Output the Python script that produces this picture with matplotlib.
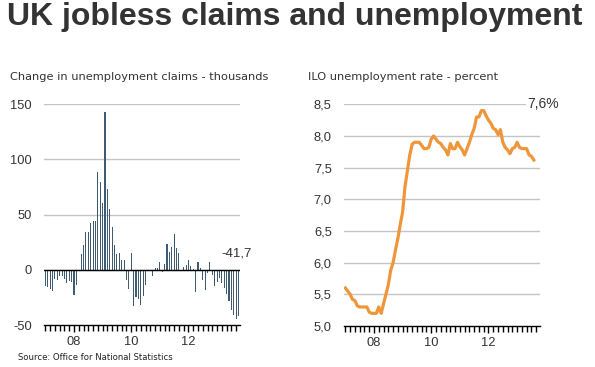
import matplotlib
matplotlib.use("Agg")
import matplotlib.pyplot as plt
from matplotlib.ticker import FixedLocator, FuncFormatter

# ---- data ----
# monthly change in claimant count (thousands), Jan 2007 .. Oct 2013
claims = [-15, -16, -17, -19, -8, -9.5, -6, -6, -8, -12, -10, -11, -23, -14, 0,
          14.5, 22.6, 34, 34, 42, 44, 44, 89, 80, 61, 143, 73, 55, 39, 22.6,
          14.5, 15, 9, 9, -9, -17.5, 15.7,
          -33, -25, -26, -31.5, -24, -13.6, -1, 0, -6, 1.5, 1.5, 7.5, -2, 5,
          23.5, 16.6, 20.5, 32.6, 19.6, 15.4, -1, 2.4, 4.5, 9, 3.6, 0.5,
          -20.5, 7.5, 1.5, -9.6, -18, -3, 7, -5, -14.5, -10.6, -7.5, -12,
          -16.6, -22, -28.6, -36, -40.7, -44.6, -41.7]

# ILO unemployment rate (%), Jan 2007 .. Aug 2013
ilo = [5.6, 5.55, 5.5, 5.42, 5.4, 5.32, 5.3, 5.3, 5.3, 5.3, 5.22, 5.2, 5.2,
       5.2, 5.3, 5.2, 5.35, 5.5, 5.65, 5.88, 6.0, 6.2, 6.38, 6.6, 6.8, 7.2,
       7.45, 7.7, 7.87, 7.9, 7.9, 7.9, 7.85, 7.8, 7.8, 7.82, 7.95, 8.0, 7.95,
       7.9, 7.88, 7.82, 7.78, 7.7, 7.88, 7.8, 7.8, 7.9, 7.83, 7.78, 7.7, 7.8,
       7.9, 8.02, 8.12, 8.3, 8.3, 8.4, 8.4, 8.32, 8.25, 8.2, 8.12, 8.1, 8.02,
       8.1, 7.9, 7.82, 7.78, 7.72, 7.8, 7.82, 7.9, 7.82, 7.8, 7.8, 7.8, 7.7,
       7.68, 7.62]

year_ticks = [12, 36, 60]
year_labels = ["08", "10", "12"]
claims_yticks = [-50, 0, 50, 100, 150]
ilo_yticks = [5.0, 5.5, 6.0, 6.5, 7.0, 7.5, 8.0, 8.5]

title = "UK jobless claims and unemployment"
sub_left = "Change in unemployment claims - thousands"
sub_right = "ILO unemployment rate - percent"
source = "Source: Office for National Statistics"
last_claim_label = "-41,7"
last_ilo_label = "7,6%"

BAR_C = "#3f5b72"
LINE_C = "#f0963a"
TXT = "#333333"
GRID = "#c4c4c4"
TICKFONT = "Liberation Sans"

W, H = 595, 367
fig = plt.figure(figsize=(W / 100, H / 100), dpi=100)
fig.patch.set_facecolor("white")


def box(x0, x1, ytop, ybot):
    return [x0 / W, 1 - ybot / H, (x1 - x0) / W, (ybot - ytop) / H]


def style_axis(ax):
    for s in ("top", "right", "left"):
        ax.spines[s].set_visible(False)
    ax.spines["bottom"].set_color("black")
    ax.spines["bottom"].set_linewidth(1.0)
    ax.xaxis.set_major_locator(FixedLocator(year_ticks))
    ax.xaxis.set_minor_locator(FixedLocator(list(range(0, 82, 2))))
    ax.set_xticklabels(year_labels)
    ax.tick_params(axis="x", which="major", length=5, width=1, color="black",
                   labelsize=9.3, labelcolor=TXT, pad=3)
    ax.tick_params(axis="x", which="minor", length=4, width=1, color="black")
    ax.tick_params(axis="y", length=0, labelsize=9.3, labelcolor=TXT, pad=9)
    for lab in ax.get_xticklabels() + ax.get_yticklabels():
        lab.set_fontfamily(TICKFONT)
    ax.set_xlim(-0.45, 81.6)


# ---- left: claims bars ----
axL = fig.add_axes(box(44.3, 240, 104.3, 325))
axL.set_ylim(-50, 150)
for yv in claims_yticks[1:]:
    axL.axhline(yv, color=GRID, lw=1.0, zorder=0)
axL.axhline(0, color="black", lw=1.0, zorder=3)
axL.bar(range(len(claims)), claims, width=0.45, color=BAR_C, linewidth=0, zorder=2)
axL.set_yticks(claims_yticks)
axL.yaxis.set_major_formatter(FuncFormatter(lambda v, p: "%d" % v))
style_axis(axL)
axL.text(len(claims) - 1.8, 14.5, last_claim_label, ha="center", va="center",
         fontsize=9.5, color=TXT, family=TICKFONT)

# ---- right: ILO line ----
axR = fig.add_axes(box(344.3, 540, 104.3, 326))
axR.set_ylim(5.0, 8.5)
for yv in ilo_yticks[1:]:
    axR.axhline(yv, color=GRID, lw=1.0, zorder=0)
axR.plot(range(len(ilo)), ilo, color=LINE_C, lw=2.3, zorder=3,
         solid_joinstyle="round")
axR.set_yticks(ilo_yticks)
axR.yaxis.set_major_formatter(FuncFormatter(lambda v, p: ("%.1f" % v).replace(".", ",")))
style_axis(axR)
axR.text(len(ilo) - 3.6, 8.5, last_ilo_label, ha="left", va="center",
         fontsize=10, color=TXT, family=TICKFONT,
         bbox=dict(facecolor="white", edgecolor="none", pad=1.5))

# ---- texts ----
fig.text(7 / W, 1 - 17 / H, title, ha="left", va="center", fontsize=23,
         fontweight="bold", color=TXT, family="Liberation Sans")
fig.text(10 / W, 1 - 77 / H, sub_left, ha="left", va="center", fontsize=8.2,
         color=TXT, family="DejaVu Sans")
fig.text(308 / W, 1 - 77 / H, sub_right, ha="left", va="center", fontsize=8.2,
         color=TXT, family="DejaVu Sans")
fig.text(18 / W, 1 - 357 / H, source, ha="left", va="center", fontsize=6.1,
         color="#222222", family="DejaVu Sans")

fig.savefig("out.png", dpi=100, facecolor="white")
